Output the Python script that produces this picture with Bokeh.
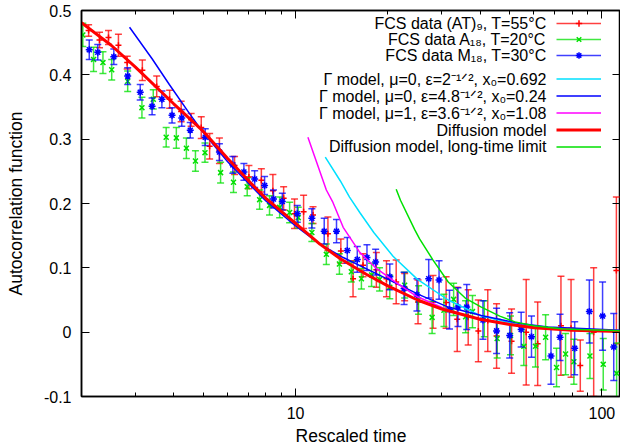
from bokeh.plotting import figure
from bokeh.models import FixedTicker, LogAxis, LinearAxis, Legend, LegendItem, Range1d, Label
from bokeh.embed import file_html
from bokeh.resources import INLINE

# ---------------- data ----------------
# FCS data (AT)9, T=55C
at9_x = [2.11, 2.29, 2.45, 2.64, 2.82, 3.16, 3.52, 3.88, 4.23, 4.56, 4.92, 5.24, 5.64, 6.32, 7.04,
         7.73, 8.43, 9.14, 9.92, 10.62, 11.4, 12.75, 14.05, 15.4, 16.6, 18.35, 19.8, 21.3, 22.7, 25.1,
         28.1, 31.0, 33.7, 36.6, 39.5, 42.4, 45.3, 50.7, 56.6, 61.7, 73.5, 79.3, 85.0, 94.0, 111.5]
at9_y = [0.469, 0.454, 0.458, 0.446, 0.419, 0.407, 0.382, 0.362, 0.343, 0.330, 0.318, 0.289, 0.282, 0.259, 0.241,
         0.236, 0.220, 0.208, 0.184, 0.187, 0.182, 0.153, 0.126, 0.083, 0.104, 0.097, 0.083, 0.078, 0.070, 0.047,
         0.047, 0.046, 0.020, 0.023, 0.002, 0.018, -0.006, -0.014, 0.000, -0.018, 0.010, 0.006, -0.052, 0.000, 0.096]
at9_e = [0.009, 0.012, 0.011, 0.017, 0.010, 0.016, 0.016, 0.014, 0.016, 0.010, 0.017, 0.020, 0.020, 0.014, 0.018,
         0.018, 0.025, 0.018, 0.023, 0.026, 0.013, 0.026, 0.019, 0.028, 0.018, 0.027, 0.028, 0.034, 0.021, 0.034,
         0.041, 0.040, 0.050, 0.043, 0.048, 0.048, 0.050, 0.050, 0.082, 0.065, 0.077, 0.076, 0.040, 0.100, 0.114]

# FCS data A18, T=20C
a18_x = [2.02, 2.19, 2.35, 2.51, 2.83, 3.15, 3.43, 3.78, 4.08, 4.40, 4.71, 5.06, 5.69, 6.27, 6.95,
         7.63, 8.22, 8.87, 9.56, 10.2, 11.3, 12.6, 13.9, 15.2, 16.4, 17.7, 18.8, 20.3, 22.7, 25.2,
         27.9, 30.5, 32.8, 35.9, 37.8, 41.3, 45.5, 50.3, 55.6, 60.7, 65.5, 71.1, 76.1, 81.0, 91.4, 101.0, 111.7]
a18_y = [0.462, 0.424, 0.419, 0.408, 0.390, 0.349, 0.362, 0.303, 0.302, 0.286, 0.266, 0.279, 0.248, 0.233, 0.226,
         0.206, 0.197, 0.194, 0.186, 0.178, 0.155, 0.121, 0.106, 0.094, 0.083, 0.089, 0.082, 0.070, 0.073, 0.050,
         0.023, 0.034, 0.051, 0.024, 0.032, 0.021, -0.010, -0.005, -0.022, -0.022, -0.008, -0.055, -0.034, -0.046,
         -0.037, -0.050, -0.064]
a18_e = [0.018, 0.019, 0.017, 0.016, 0.016, 0.016, 0.015, 0.015, 0.016, 0.016, 0.016, 0.015, 0.016, 0.016, 0.014,
         0.015, 0.015, 0.016, 0.016, 0.016, 0.014, 0.016, 0.016, 0.016, 0.016, 0.018, 0.018, 0.018, 0.020, 0.022,
         0.025, 0.025, 0.025, 0.025, 0.025, 0.028, 0.030, 0.030, 0.030, 0.032, 0.035, 0.030, 0.032, 0.035, 0.035,
         0.040, 0.047]

# FCS data M18, T=30C
m18_x = [2.12, 2.26, 2.55, 2.83, 3.11, 3.40, 3.66, 3.95, 4.25, 4.53, 5.07, 5.64, 6.24, 6.78, 7.35,
         7.92, 8.47, 9.05, 10.13, 11.3, 12.4, 13.6, 14.75, 15.9, 17.1, 18.25, 20.3, 22.6, 24.9, 27.2,
         29.4, 31.8, 33.9, 36.2, 40.9, 45.3, 50.0, 54.5, 58.9, 68.2, 73.0, 81.5, 91.0, 100.5, 109.3]
m18_y = [0.439, 0.435, 0.428, 0.398, 0.373, 0.351, 0.362, 0.337, 0.333, 0.314, 0.303, 0.280, 0.260, 0.249, 0.238,
         0.228, 0.207, 0.203, 0.184, 0.177, 0.157, 0.157, 0.127, 0.113, 0.116, 0.109, 0.086, 0.068, 0.058, 0.083,
         0.081, 0.035, 0.039, 0.039, 0.019, 0.002, -0.005, 0.004, -0.007, -0.037, -0.008, -0.025, 0.032, 0.025, -0.023]
m18_e = [0.015, 0.012, 0.012, 0.013, 0.012, 0.013, 0.013, 0.012, 0.013, 0.012, 0.013, 0.013, 0.013, 0.013, 0.013,
         0.014, 0.014, 0.013, 0.013, 0.015, 0.020, 0.018, 0.020, 0.020, 0.020, 0.020, 0.020, 0.025, 0.025, 0.030,
         0.030, 0.030, 0.030, 0.035, 0.030, 0.035, 0.035, 0.027, 0.032, 0.044, 0.036, 0.041, 0.049, 0.053, 0.052]

# model curves
gam1_x = [12.5, 14.0, 15.0, 16.2, 18.0, 20.8, 25.0, 31.5, 40.0, 54.0, 70.0, 115.0]
gam1_y = [0.272, 0.235, 0.210, 0.186, 0.155, 0.118, 0.082, 0.050, 0.026, 0.011, 0.006, 0.002]

gam2_x = [2.87, 3.4, 3.87, 4.5, 4.98, 6.0, 7.0, 8.0, 10.0, 12.0, 14.3, 18.35, 25.4, 31.5, 40.4, 54.0, 66.7, 115.0]
gam2_y = [0.474, 0.425, 0.385, 0.340, 0.311, 0.265, 0.232, 0.204, 0.165, 0.137, 0.116, 0.091, 0.058, 0.039,
          0.026, 0.0135, 0.008, 0.003]

gam3_x = [10.97, 11.5, 12.6, 13.2, 14.3, 16.2, 18.35, 21.3, 25.0, 31.5, 40.0, 54.0, 70.0, 115.0]
gam3_y = [0.303, 0.275, 0.221, 0.203, 0.163, 0.124, 0.099, 0.077, 0.055, 0.034, 0.020, 0.010, 0.005, 0.001]

diff_x = [2.0, 2.5, 3.0, 4.0, 5.0, 6.0, 7.0, 8.0, 10.0, 12.0, 14.0, 17.0, 20.0, 25.0, 30.0, 40.0, 50.0, 60.0,
          80.0, 115.0]
diff_y = [0.481, 0.446, 0.412, 0.355, 0.312, 0.270, 0.236, 0.208, 0.169, 0.137, 0.114, 0.090, 0.072, 0.050,
          0.036, 0.020, 0.012, 0.007, 0.003, 0.001]

long_x = [21.3, 22.0, 24.5, 25.4, 28.1, 31.5, 36.0, 40.4, 46.4, 52.0, 60.0, 75.0, 115.0]
long_y = [0.222, 0.205, 0.159, 0.145, 0.112, 0.078, 0.052, 0.039, 0.025, 0.016, 0.010, 0.005, 0.002]

x_ticks = [10, 100]
x_tick_labels = ["10", "100"]
x_minor = [2, 3, 4, 5, 6, 7, 8, 9, 20, 30, 40, 50, 60, 70, 80, 90]
y_ticks = [-0.1, 0, 0.1, 0.2, 0.3, 0.4, 0.5]
y_tick_labels = ["-0.1", "0", "0.1", "0.2", "0.3", "0.4", "0.5"]

labels = ["FCS data (AT)\u2089, T=55\u00b0C",
          "FCS data A\u2081\u2088, T=20\u00b0C",
          "FCS data M\u2081\u2088, T=30\u00b0C",
          "\u0393 model, \u03bc=0, \u03b5=2\u207b\u00b9\u141f\u00b2, x\u2080=0.692",
          "\u0393 model, \u03bc=0, \u03b5=4.8\u207b\u00b9\u141f\u00b2, x\u2080=0.24",
          "\u0393 model, \u03bc=1, \u03b5=3.6\u207b\u00b9\u141f\u00b2, x\u2080=1.08",
          "Diffusion model",
          "Diffusion model, long-time limit"]

RED = "#ff0000"
GREEN = "#00e000"
BLUE = "#0000ff"
CYAN = "#00e0ff"
MAGENTA = "#ff00ff"
FONT = "Liberation Sans"

FRAME_LEFT, FRAME_TOP, FRAME_BOTTOM = 81, 10, 396
p = figure(width=620, height=448, x_axis_type="log",
           x_range=Range1d(2, 115), y_range=Range1d(-0.1, 0.5),
           output_backend="svg", toolbar_location=None,
           min_border_left=FRAME_LEFT, min_border_right=0, min_border_top=FRAME_TOP,
           min_border_bottom=448 - FRAME_BOTTOM)
p.grid.visible = False
p.outline_line_color = "black"
p.outline_line_width = 1.5
p.background_fill_color = "white"
p.border_fill_color = "white"


def series(xs, ys, es, color, marker, size):
    lo = [y - e for y, e in zip(ys, es)]
    hi = [y + e for y, e in zip(ys, es)]
    stem = p.segment(x0=xs, y0=lo, x1=xs, y1=hi, line_color=color, line_width=1.5, line_alpha=0.75)
    p.scatter(x=xs + xs, y=lo + hi, marker="dash", size=7, line_color=color, line_width=1.5, line_alpha=0.75)
    mark = p.scatter(x=xs, y=ys, marker=marker, size=size, line_color=color, line_width=1.5)
    return stem, mark


r1 = series(at9_x, at9_y, at9_e, RED, "cross", 6)
r2 = series(a18_x, a18_y, a18_e, GREEN, "x", 7)
r3 = series(m18_x, m18_y, m18_e, BLUE, "asterisk", 7)

l1 = p.line(gam1_x, gam1_y, line_color=CYAN, line_width=1.5)
l2 = p.line(gam2_x, gam2_y, line_color=BLUE, line_width=1.5)
l3 = p.line(gam3_x, gam3_y, line_color=MAGENTA, line_width=1.5)
l4 = p.line(diff_x, diff_y, line_color=RED, line_width=3)
l5 = p.line(long_x, long_y, line_color=GREEN, line_width=1.5)

# axes
xt = FixedTicker(ticks=x_ticks, minor_ticks=x_minor)
yt = FixedTicker(ticks=y_ticks, minor_ticks=[])
xax = p.xaxis[0]
yax = p.yaxis[0]
xax.ticker = xt
yax.ticker = yt
xax.major_label_overrides = dict(zip(x_ticks, x_tick_labels))
yax.major_label_overrides = dict(zip(y_ticks, y_tick_labels))
xax.axis_label = "Rescaled time"
yax.axis_label = "Autocorrelation function"
for ax in (xax, yax):
    ax.major_tick_in = 8
    ax.major_tick_out = 0
    ax.minor_tick_in = 4
    ax.minor_tick_out = 0
    ax.axis_line_width = 1.5
    ax.major_tick_line_width = 1
    ax.minor_tick_line_width = 1
    ax.major_label_text_font = FONT
    ax.major_label_text_font_size = "16px"
    ax.major_label_text_color = "black"
    ax.axis_label_text_font = FONT
    ax.axis_label_text_font_size = "17.5px"
    ax.axis_label_text_font_style = "normal"
    ax.axis_label_text_color = "black"
xax.major_label_standoff = 10
xax.axis_label_standoff = 4
yax.major_label_standoff = 10
yax.axis_label_standoff = 15

top = LogAxis(ticker=xt, major_label_text_font_size="1px", major_label_text_alpha=0, major_label_standoff=0,
              major_tick_in=8, major_tick_out=0, minor_tick_in=4, minor_tick_out=0, axis_line_width=1.5)
right = LinearAxis(ticker=yt, major_label_text_font_size="1px", major_label_text_alpha=0, major_label_standoff=0,
                   major_tick_in=8, major_tick_out=0, minor_tick_in=0, minor_tick_out=0, axis_line_width=1.5)
p.add_layout(top, "above")
p.add_layout(right, "right")

# ---- gnuplot-style key: right-aligned text, sample to its right ----
KEY_TEXT_RIGHT = 546
KEY_SAMPLE_LEFT = 556
row_y = [23, 39, 55, 79, 96, 113, 130, 146]   # screen rows (from top)

for txt, yc in zip(labels, row_y):
    p.add_layout(Label(x=KEY_TEXT_RIGHT - FRAME_LEFT, y=FRAME_BOTTOM - yc, x_units="screen", y_units="screen",
                       text=txt, text_align="right", text_baseline="middle",
                       text_font=FONT, text_font_size="16px", text_color="black"))


def sample_legend(renderer_groups, first_row, last_row, pitch):
    its = [LegendItem(label=" ", renderers=list(g)) for g in renderer_groups]
    bottom = last_row + pitch / 2
    return Legend(items=its, location=(KEY_SAMPLE_LEFT - FRAME_LEFT, FRAME_BOTTOM - bottom),
                  label_text_font_size="1px", label_text_alpha=0,
                  glyph_width=45, glyph_height=pitch, label_height=pitch, label_width=1, label_standoff=0,
                  spacing=0, padding=0, margin=0,
                  background_fill_alpha=0, border_line_alpha=0)


p.add_layout(sample_legend([r1, r2, r3], row_y[0], row_y[2], 16))
p.add_layout(sample_legend([[l1], [l2], [l3], [l4], [l5]], row_y[3], row_y[7], 17))

open("out.html", "w").write(file_html(p, INLINE))
